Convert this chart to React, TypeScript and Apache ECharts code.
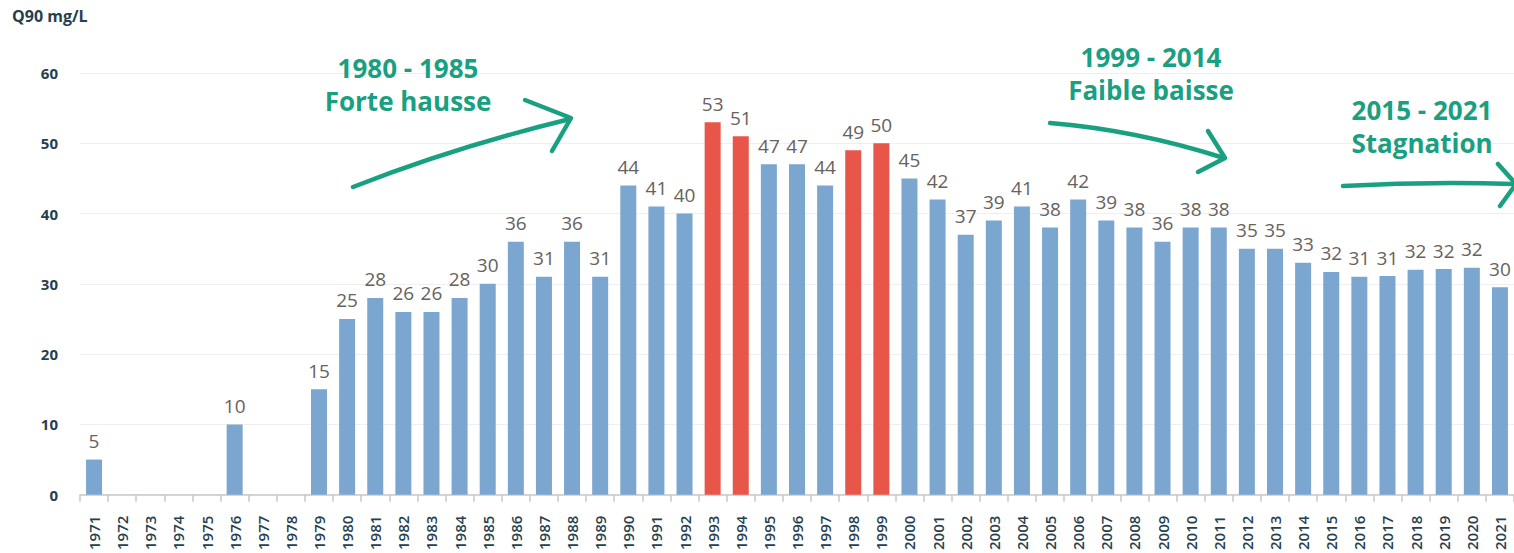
import React, { useEffect, useRef } from "react";
import * as echarts from "echarts";

const years: string[] = [
  "1971","1972","1973","1974","1975","1976","1977","1978","1979","1980",
  "1981","1982","1983","1984","1985","1986","1987","1988","1989","1990",
  "1991","1992","1993","1994","1995","1996","1997","1998","1999","2000",
  "2001","2002","2003","2004","2005","2006","2007","2008","2009","2010",
  "2011","2012","2013","2014","2015","2016","2017","2018","2019","2020","2021",
];

const q90Values: (number | null)[] = [
  5, null, null, null, null, 10, null, null, 15, 25,
  28, 26, 26, 28, 30, 36, 31, 36, 31, 44,
  41, 40, 53, 51, 47, 47, 44, 49, 50, 45,
  42, 37, 39, 41, 38, 42, 39, 38, 36, 38,
  38, 35, 35, 33, 31.7, 31, 31.1, 32, 32.1, 32.3, 29.5,
];

const highlightYears: string[] = ["1993", "1994", "1998", "1999"];

const yTicks = { min: 0, max: 60, interval: 10 };

const unitLabel = "Q90 mg/L";
const annotations = [
  { title: "1980 - 1985", subtitle: "Forte hausse", cx: 408, cy: 84 },
  { title: "1999 - 2014", subtitle: "Faible baisse", cx: 1151, cy: 73 },
  { title: "2015 - 2021", subtitle: "Stagnation", cx: 1422, cy: 126 },
];

const BLUE = "#7ba6d0";
const RED = "#e8564a";
const GREEN = "#19a081";
const DARK = "#263f4e";

export default function App() {
  const ref = useRef<HTMLDivElement>(null);

  useEffect(() => {
    if (!ref.current) return;
    const chart = echarts.init(ref.current, null, { renderer: "svg" });

    const arrowStyle = {
      stroke: GREEN,
      lineWidth: 4.5,
      lineCap: "round",
      lineJoin: "round",
      fill: null,
    };

    const graphics: any[] = [
      {
        type: "text",
        left: 12,
        top: 8,
        z: 100,
        style: {
          text: unitLabel,
          font: "bold 16px 'Open Sans'",
          fill: DARK,
        },
      },
    ];

    annotations.forEach((a) => {
      graphics.push({
        type: "text",
        x: a.cx,
        y: a.cy,
        z: 100,
        style: {
          text: a.title + "\n" + a.subtitle,
          font: "bold 26px 'Open Sans'",
          fill: GREEN,
          align: "center",
          verticalAlign: "middle",
          lineHeight: 33,
        },
      });
    });

    // Arrow 1 (rising)
    graphics.push({
      type: "bezierCurve",
      z: 100,
      shape: { x1: 353, y1: 187, x2: 570, y2: 119, cpx1: 455, cpy1: 147 },
      style: arrowStyle,
    });
    graphics.push({
      type: "polyline",
      z: 100,
      shape: { points: [[525, 100], [571, 118], [552, 151]] },
      style: arrowStyle,
    });
    // Arrow 2 (falling slightly)
    graphics.push({
      type: "bezierCurve",
      z: 100,
      shape: { x1: 1050, y1: 123, x2: 1224, y2: 158, cpx1: 1136, cpy1: 130 },
      style: arrowStyle,
    });
    graphics.push({
      type: "polyline",
      z: 100,
      shape: { points: [[1208, 131], [1225, 158], [1198, 172]] },
      style: arrowStyle,
    });
    // Arrow 3 (flat)
    graphics.push({
      type: "bezierCurve",
      z: 100,
      shape: { x1: 1343, y1: 186, x2: 1516, y2: 184, cpx1: 1430, cpy1: 181 },
      style: arrowStyle,
    });
    graphics.push({
      type: "polyline",
      z: 100,
      shape: { points: [[1498, 164], [1516, 184], [1500, 206]] },
      style: arrowStyle,
    });

    chart.setOption({
      animation: false,
      backgroundColor: "#ffffff",
      textStyle: { fontFamily: "'Open Sans', sans-serif" },
      grid: { left: 80, right: -3, top: 73, bottom: 58, containLabel: false },
      xAxis: {
        type: "category",
        data: years,
        boundaryGap: true,
        axisLine: { show: true, lineStyle: { color: "#c8c8c8", width: 1.5 } },
        axisTick: { show: true, length: 7, alignWithLabel: false, lineStyle: { color: "#c8c8c8", width: 1.5 } },
        axisLabel: {
          interval: 0,
          rotate: 90,
          margin: 21,
          color: DARK,
          fontSize: 15,
          fontWeight: 600,
          fontFamily: "'Open Sans'",
        },
      },
      yAxis: {
        type: "value",
        min: yTicks.min,
        max: yTicks.max,
        interval: yTicks.interval,
        axisLine: { show: false },
        axisTick: { show: false },
        splitLine: { show: true, lineStyle: { color: "#efefef", width: 1 } },
        axisLabel: {
          margin: 22,
          color: DARK,
          fontSize: 15,
          fontWeight: "bold",
          fontFamily: "'Open Sans'",
        },
      },
      series: [
        {
          type: "bar",
          barWidth: 16,
          data: q90Values.map((v, i) => ({
            value: v,
            itemStyle: { color: highlightYears.includes(years[i]) ? RED : BLUE },
          })),
          label: {
            show: true,
            position: "top",
            distance: 9,
            color: "#67625d",
            fontSize: 19,
            fontFamily: "'Open Sans'",
            formatter: (p: any) => (p.value == null ? "" : String(Math.round(p.value))),
          },
        },
      ],
      graphic: graphics,
    });

    return () => chart.dispose();
  }, []);

  return (
    <div
      ref={ref}
      style={{ position: "fixed", left: 0, top: 0, width: 1514, height: 553 }}
    />
  );
}
